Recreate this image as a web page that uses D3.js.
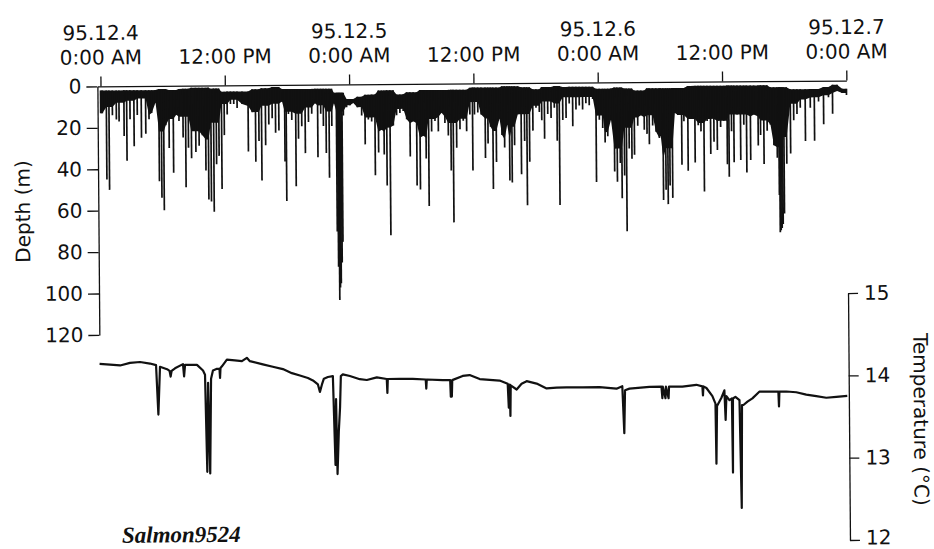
<!DOCTYPE html>
<html>
<head>
<meta charset="utf-8">
<script src="https://cdn.jsdelivr.net/npm/d3@7"></script>
<style>
  body { margin: 0; background: #fff; }
  svg { display: block; }
  .axis text { font-family: "DejaVu Sans", sans-serif; font-size: 20px; fill: #111; }
  .axis path, .axis line { stroke: #111; stroke-width: 1.3; }
</style>
</head>
<body>
<svg id="chart" width="934" height="549"></svg>
<script>
// time axis (hours since 95.12.4 0:00 AM)
const timeTicks = [0, 12, 24, 36, 48, 60, 72];
const timeDates = ["95.12.4", "", "95.12.5", "", "95.12.6", "", "95.12.7"];
const timeClock = ["0:00 AM", "12:00 PM", "0:00 AM", "12:00 PM", "0:00 AM", "12:00 PM", "0:00 AM"];
const depthTicks = [0, 20, 40, 60, 80, 100, 120];
const tempTicks = [12, 13, 14, 15];

// individual dives: time (h) and max depth (m)
const diveHours = [0.0, 0.16, 0.55, 0.8, 1.13, 1.51, 1.77, 2.25, 2.51, 2.83, 3.21, 3.53, 3.92, 4.34, 4.66, 4.92, 5.3, 5.62, 5.85, 6.07, 6.27, 6.59, 7.0, 7.29, 7.55, 7.94, 8.19, 8.45, 8.74, 9.16, 9.48, 9.8, 10.12, 10.38, 10.63, 10.89, 11.15, 11.4, 11.66, 11.92, 12.21, 12.53, 12.85, 13.17, 13.65, 14.23, 14.62, 14.94, 15.26, 15.52, 15.9, 16.22, 16.55, 16.87, 17.19, 17.51, 17.76, 17.9, 18.12, 18.44, 18.82, 19.08, 19.4, 19.73, 20.05, 20.37, 20.69, 20.94, 21.24, 21.49, 21.75, 22.04, 22.3, 22.52, 22.75, 22.85, 22.94, 23.02, 23.1, 23.2, 23.29, 23.42, 23.74, 24.07, 24.39, 24.77, 25.19, 25.51, 25.83, 26.15, 26.47, 26.8, 27.11, 27.34, 27.6, 27.92, 28.24, 28.56, 28.88, 29.2, 29.53, 29.85, 30.17, 30.49, 30.81, 31.13, 31.39, 31.64, 31.93, 32.26, 32.58, 32.9, 33.22, 33.54, 33.8, 34.02, 34.34, 34.67, 34.99, 35.31, 35.63, 35.89, 36.08, 36.4, 36.72, 37.11, 37.37, 37.62, 37.85, 38.17, 38.49, 38.72, 38.97, 39.23, 39.45, 39.68, 39.93, 40.26, 40.58, 40.9, 41.13, 41.38, 41.71, 42.02, 42.34, 42.57, 42.83, 43.15, 43.47, 43.79, 44.05, 44.27, 44.6, 44.92, 45.23, 45.56, 45.88, 46.2, 46.52, 46.84, 47.16, 47.49, 47.81, 48.13, 48.45, 48.67, 48.93, 49.25, 49.57, 49.83, 50.12, 50.28, 50.53, 50.73, 50.99, 51.25, 51.5, 51.83, 52.14, 52.46, 52.72, 52.94, 53.27, 53.59, 53.91, 54.04, 54.27, 54.52, 54.72, 54.91, 55.16, 55.42, 55.71, 56.07, 56.29, 56.67, 56.93, 57.35, 57.67, 57.93, 58.22, 58.53, 58.86, 59.18, 59.5, 59.83, 60.14, 60.46, 60.63, 60.88, 61.11, 61.43, 61.75, 62.07, 62.33, 62.71, 63.04, 63.45, 63.68, 64.0, 64.32, 64.64, 64.96, 65.28, 65.45, 65.51, 65.6, 65.7, 65.8, 65.93, 66.19, 66.57, 66.89, 67.21, 67.53, 68.01, 68.5, 68.89, 69.3, 69.78, 70.26, 70.65, 71.1, 71.58, 72.0];
const diveDepths = [13, 13, 45, 50, 14, 16, 17, 24, 36, 16, 29, 14, 25, 23, 16, 13, 8, 46, 54, 60, 19, 30, 42, 14, 17, 25, 49, 30, 35, 32, 29, 24, 41, 55, 56, 61, 38, 34, 50, 24, 14, 9, 9, 11, 9, 32, 13, 37, 27, 46, 29, 19, 16, 23, 22, 8, 37, 56, 14, 17, 49, 26, 20, 33, 18, 14, 9, 35, 14, 20, 33, 45, 20, 9, 71, 88, 104, 98, 96, 86, 76, 15, 11, 10, 9, 11, 15, 29, 17, 18, 44, 33, 22, 34, 49, 73, 20, 15, 14, 13, 17, 35, 18, 49, 51, 25, 36, 59, 23, 18, 23, 14, 19, 25, 42, 67, 31, 22, 18, 23, 15, 42, 15, 14, 15, 36, 29, 21, 51, 38, 17, 25, 31, 20, 47, 48, 30, 15, 44, 28, 59, 38, 23, 12, 14, 18, 27, 15, 17, 12, 28, 59, 18, 17, 10, 21, 13, 11, 13, 10, 11, 8, 48, 18, 22, 29, 26, 18, 43, 48, 39, 56, 45, 72, 32, 37, 35, 21, 16, 23, 25, 30, 21, 24, 27, 26, 57, 52, 59, 50, 56, 15, 16, 40, 19, 43, 18, 39, 21, 24, 53, 19, 35, 29, 33, 22, 19, 40, 46, 24, 39, 16, 38, 21, 44, 38, 16, 31, 26, 40, 24, 21, 31, 37, 55, 73, 72, 71, 69, 64, 40, 35, 19, 16, 13, 29, 13, 29, 10, 21, 8, 16, 5, 6, 7];

// dense shallow-dive band, read hourly (0..72 h): surface and lower edge (m)
const bandTop = [2, 2, 2, 2, 2, 2, 1.5, 2, 1.5, 1, 1, 1.5, 3, 3, 3, 2, 1.5, 1, 2, 2, 2, 2, 2, 4, 7, 6, 5, 3, 3, 5, 4, 3, 3, 3, 3, 3, 2, 2, 2, 1.5, 1.5, 2, 3, 2, 1.5, 2, 2, 2, 3, 3, 2.5, 3, 4, 3, 3, 3, 3, 2, 2, 2, 2, 2, 2, 2, 2, 3, 3, 4, 4, 4, 3, 2, 4];
const bandBottom = [14, 10, 8, 7, 6, 14, 22, 16, 15, 22, 26, 18, 9, 7, 10, 13, 10, 9, 13, 14, 11, 10, 13, 13, 10, 11, 16, 23, 21, 12, 19, 26, 17, 16, 19, 17, 9, 17, 23, 27, 21, 15, 11, 9, 10, 7, 7, 7, 16, 24, 32, 22, 17, 16, 37, 32, 16, 18, 20, 18, 19, 16, 16, 17, 19, 32, 27, 11, 9, 8, 7, 6, 6];

// water temperature record (h, deg C)
const tempHours = [-0.3, 0.71, 1.68, 2.64, 3.61, 4.57, 5.15, 5.34, 5.53, 6.21, 6.45, 6.55, 6.65, 6.98, 7.75, 7.85, 7.95, 8.42, 9.1, 9.68, 9.87, 10.02, 10.16, 10.3, 10.45, 10.64, 11.03, 11.27, 11.32, 11.37, 11.51, 11.99, 12.76, 13.44, 13.92, 14.21, 15.46, 16.42, 17.39, 18.26, 19.03, 19.8, 20.28, 20.76, 20.95, 21.15, 21.34, 21.73, 22.21, 22.4, 22.5, 22.59, 22.74, 22.88, 22.98, 23.17, 23.85, 24.81, 25.48, 26.45, 27.41, 27.46, 27.51, 28.67, 29.92, 31.17, 31.22, 31.27, 32.81, 33.53, 33.58, 33.68, 33.73, 34.74, 35.41, 36.38, 37.34, 38.3, 39.08, 39.17, 39.27, 39.32, 39.37, 39.94, 40.42, 40.91, 41.87, 42.83, 43.8, 44.76, 46.3, 47.94, 49.58, 50.14, 50.3, 50.4, 50.83, 52.76, 53.92, 54.0, 54.05, 54.3, 54.35, 54.6, 54.65, 55.94, 57.29, 57.87, 57.92, 57.97, 58.26, 58.83, 59.12, 59.17, 59.27, 59.7, 59.99, 60.09, 60.18, 60.47, 60.71, 60.76, 60.81, 61.05, 61.44, 61.58, 61.68, 61.82, 62.21, 62.69, 63.36, 64.33, 65.2, 65.25, 65.3, 65.97, 66.93, 67.89, 68.86, 69.82, 70.79, 71.85];
const tempValues = [14.21, 14.2, 14.19, 14.22, 14.23, 14.21, 14.19, 13.59, 14.17, 14.14, 14.12, 14.05, 14.12, 14.15, 14.2, 14.05, 14.19, 14.19, 14.19, 14.12, 14.07, 12.89, 13.97, 12.87, 14.02, 14.12, 14.14, 14.14, 14.03, 14.15, 14.17, 14.25, 14.24, 14.23, 14.27, 14.23, 14.19, 14.16, 14.13, 14.08, 14.05, 14.02, 13.99, 13.94, 13.85, 13.94, 14.01, 14.03, 14.04, 12.96, 13.76, 12.85, 13.36, 13.66, 14.04, 14.06, 14.04, 14.0, 13.99, 14.02, 14.0, 13.83, 14.0, 14.0, 14.0, 13.99, 13.88, 13.99, 13.98, 13.98, 13.78, 13.78, 13.98, 14.03, 14.04, 13.99, 13.98, 13.97, 13.93, 13.64, 13.92, 13.54, 13.91, 13.86, 13.93, 13.96, 13.93, 13.87, 13.88, 13.88, 13.88, 13.88, 13.86, 13.89, 13.32, 13.84, 13.86, 13.88, 13.88, 13.74, 13.88, 13.74, 13.88, 13.74, 13.88, 13.88, 13.9, 13.88, 13.77, 13.88, 13.86, 13.76, 13.67, 12.94, 13.64, 13.74, 13.83, 13.47, 13.76, 13.71, 13.73, 12.83, 13.73, 13.75, 13.71, 12.4, 13.65, 13.65, 13.69, 13.73, 13.81, 13.81, 13.81, 13.63, 13.81, 13.81, 13.8, 13.77, 13.75, 13.73, 13.74, 13.75];

const svg = d3.select("#chart");
// the scanned figure is slightly tilted
const g = svg.append("g").attr("transform", "rotate(-0.45 470 290)");

const x = d3.scaleLinear().domain([-0.3, 72]).range([99, 848]);
const yDepth = d3.scaleLinear().domain([0, 120]).range([83.5, 332]);
const yTemp = d3.scaleLinear().domain([12, 15]).range([543, 296]);

const hourIdx = (h) => Math.max(0, Math.min(72, Math.round(h)));

// shallow dive band: lower edge follows each dive, capped by the band depth
const bandPoints = diveHours.map((h, i) => ({
  h: h,
  top: bandTop[hourIdx(h)],
  bottom: Math.min(diveDepths[i], bandBottom[hourIdx(h)])
}));

const band = d3.area()
  .x((d) => x(d.h))
  .y0((d) => yDepth(d.top))
  .y1((d) => yDepth(d.bottom));

g.append("path")
  .datum(bandPoints)
  .attr("d", band)
  .attr("fill", "#111");

// dives
g.selectAll(".dive")
  .data(diveHours)
  .enter()
  .append("line")
  .attr("class", "dive")
  .attr("x1", (d) => x(d))
  .attr("x2", (d) => x(d))
  .attr("y1", (d) => yDepth(bandTop[hourIdx(d)]))
  .attr("y2", (d, i) => yDepth(diveDepths[i]))
  .attr("stroke", "#111")
  .attr("stroke-width", 1.7);

// temperature
const tempLine = d3.line()
  .x((d) => x(d[0]))
  .y((d) => yTemp(d[1]));

g.append("path")
  .datum(tempHours.map((h, i) => [h, tempValues[i]]))
  .attr("d", tempLine)
  .attr("fill", "none")
  .attr("stroke", "#111")
  .attr("stroke-width", 2.2)
  .attr("stroke-linejoin", "round");

// top time axis
const xAxis = g.append("g")
  .attr("class", "axis")
  .attr("transform", `translate(0,${yDepth(0)})`)
  .call(d3.axisTop(x).tickValues(timeTicks).tickSize(10).tickSizeOuter(0).tickFormat(""));

xAxis.selectAll(".tick").each(function (d, i) {
  const t = d3.select(this).append("text")
    .attr("text-anchor", "middle")
    .attr("fill", "#111");
  t.append("tspan").attr("x", 0).attr("y", -46.5).text(timeDates[i]);
  t.append("tspan").attr("x", 0).attr("y", -22).text(timeClock[i]);
});

// depth axis
g.append("g")
  .attr("class", "axis")
  .attr("transform", `translate(${x(-0.3)},0)`)
  .call(d3.axisLeft(yDepth).tickValues(depthTicks).tickSize(11).tickSizeOuter(0).tickPadding(5));

// temperature axis
const tAxis = g.append("g")
  .attr("class", "axis")
  .attr("transform", `translate(${x(72)},0)`)
  .call(d3.axisRight(yTemp).tickValues(tempTicks).tickSize(10).tickSizeOuter(0).tickPadding(6).tickFormat(d3.format("d")));

// bottom label sits on the page edge
tAxis.selectAll(".tick text").filter((d) => d === 12).attr("dy", "0.2em");

// axis titles
g.append("text")
  .attr("transform", "translate(30.5,208) rotate(-90)")
  .attr("text-anchor", "middle")
  .style("font-family", '"DejaVu Sans", sans-serif')
  .style("font-size", "20px")
  .attr("fill", "#111")
  .text("Depth (m)");

g.append("text")
  .attr("transform", "translate(913,423) rotate(90)")
  .attr("text-anchor", "middle")
  .style("font-family", '"DejaVu Sans", sans-serif')
  .style("font-size", "20px")
  .attr("fill", "#111")
  .text("Temperature (°C)");

g.append("text")
  .attr("x", 120)
  .attr("y", 540)
  .style("font-family", '"Liberation Serif", "Times New Roman", serif')
  .style("font-size", "23px")
  .style("font-weight", "bold")
  .style("font-style", "italic")
  .attr("fill", "#111")
  .text("Salmon9524");
</script>
</body>
</html>
